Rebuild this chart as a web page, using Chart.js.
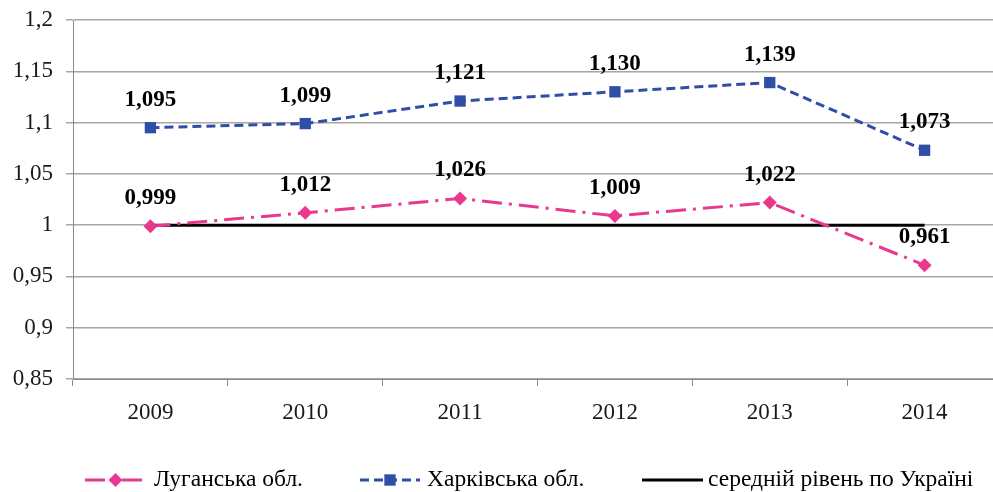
<!DOCTYPE html>
<html><head><meta charset="utf-8">
<script src="https://cdn.jsdelivr.net/npm/chart.js@4/dist/chart.umd.min.js"></script>
<style>
html,body{margin:0;padding:0;background:#fff;overflow:hidden;}
#wrap{width:993px;height:492px;overflow:hidden;position:relative;}
#c{position:absolute;left:0;top:0;}
</style></head>
<body><div id="wrap"><canvas id="c" width="1010" height="492"></canvas></div>
<script>
const categories = ['2009','2010','2011','2012','2013','2014'];
const luhansk = [0.999, 1.012, 1.026, 1.009, 1.022, 0.961];
const kharkiv = [1.095, 1.099, 1.121, 1.130, 1.139, 1.073];
const ukraineAvg = [1, 1, 1, 1, 1, 1];
const seriesNames = ['Луганська обл.', 'Харківська обл.', 'середній рівень по Україні'];
const yTicks = [0.85, 0.9, 0.95, 1, 1.05, 1.1, 1.15, 1.2];

const FONT = '"Liberation Serif", "Times New Roman", serif';
const PINK = '#E8398F', BLUE = '#2F4FA6';

const fmt = v => String(v).replace('.', ',');
const fmt3 = v => v.toFixed(3).replace('.', ',');

const labelPlugin = {
  id: 'labels',
  afterDatasetsDraw(chart) {
    const ctx = chart.ctx;
    ctx.save();
    ctx.font = 'bold 23px ' + FONT;
    ctx.fillStyle = '#000';
    ctx.textAlign = 'center';
    ctx.textBaseline = 'middle';
    [0, 1].forEach(di => {
      const meta = chart.getDatasetMeta(di);
      meta.data.forEach((pt, i) => {
        ctx.fillText(fmt3(chart.data.datasets[di].data[i]), pt.x, pt.y - 28);
      });
    });
    ctx.restore();
  },
  afterDraw(chart) {
    const ctx = chart.ctx;
    const ds = chart.data.datasets;
    const items = [
      {x0: 85, x1: 146, tx: 154, ds: ds[0]},
      {x0: 360, x1: 420, tx: 427, ds: ds[1]},
      {x0: 642, x1: 703, tx: 708, ds: ds[2]}
    ];
    const y = 480;
    ctx.save();
    items.forEach(it => {
      ctx.strokeStyle = it.ds.borderColor;
      ctx.lineWidth = it.ds.borderWidth;
      ctx.setLineDash(it.ds.borderDash || []);
      ctx.beginPath(); ctx.moveTo(it.x0, y); ctx.lineTo(it.x1, y); ctx.stroke();
      ctx.setLineDash([]);
      if (it.ds.pointRadius > 0) {
        ctx.fillStyle = it.ds.borderColor;
        ctx.beginPath();
        const r = it.ds.pointRadius, cx = (it.x0 + it.x1) / 2;
        if (it.ds.pointStyle === 'rectRot') {
          ctx.moveTo(cx - r, y); ctx.lineTo(cx, y - r); ctx.lineTo(cx + r, y); ctx.lineTo(cx, y + r);
        } else {
          const s = r * Math.SQRT1_2; ctx.rect(cx - s, y - s, 2 * s, 2 * s);
        }
        ctx.closePath(); ctx.fill();
      }
      ctx.fillStyle = '#000';
      ctx.font = '23.5px ' + FONT;
      ctx.textAlign = 'left';
      ctx.textBaseline = 'middle';
      ctx.fillText(it.ds.label, it.tx, y);
    });
    ctx.restore();
  }
};

new Chart(document.getElementById('c'), {
  type: 'line',
  data: {
    labels: categories,
    datasets: [
      {label: seriesNames[0], data: luhansk, borderColor: PINK, backgroundColor: PINK,
       borderWidth: 3, borderDash: [20, 7, 3, 7], pointStyle: 'rectRot', pointRadius: 7,
       pointBorderWidth: 0, tension: 0, order: 1},
      {label: seriesNames[1], data: kharkiv, borderColor: BLUE, backgroundColor: BLUE,
       borderWidth: 3, borderDash: [9, 5], pointStyle: 'rect', pointRadius: 8,
       pointBorderWidth: 0, tension: 0, order: 0},
      {label: seriesNames[2], data: ukraineAvg, borderColor: '#000', backgroundColor: '#000',
       borderWidth: 3, pointRadius: 0, tension: 0, order: 2}
    ]
  },
  options: {
    responsive: false,
    animation: false,
    devicePixelRatio: 1,
    layout: {padding: {top: 20, right: 7, left: 0, bottom: 0}},
    plugins: {legend: {display: false}, tooltip: {enabled: false}},
    scales: {
      x: {
        offset: true,
        grid: {display: true, offset: true, drawOnChartArea: false, drawTicks: true, tickLength: 7, color: '#8c8c8c'},
        border: {display: true, color: '#8c8c8c', width: 1},
        ticks: {font: {family: FONT, size: 23}, color: '#1a1a1a', padding: 13},
        afterFit(s) { s.height = 113; s.paddingLeft = 0; s.paddingRight = 0; }
      },
      y: {
        min: 0.85, max: 1.2,
        afterBuildTicks(s) { s.ticks = yTicks.map(v => ({value: v})); },
        grid: {color: '#a6a6a6', lineWidth: 1.5, tickLength: 7, drawTicks: true},
        border: {display: true, color: '#8c8c8c', width: 1},
        ticks: {font: {family: FONT, size: 23}, color: '#1a1a1a', padding: 13, callback: v => fmt(+v.toFixed(2))},
        afterFit(s) { s.width = 73; s.paddingTop = 0; s.paddingBottom = 0; }
      }
    }
  },
  plugins: [labelPlugin]
});
</script></body></html>
